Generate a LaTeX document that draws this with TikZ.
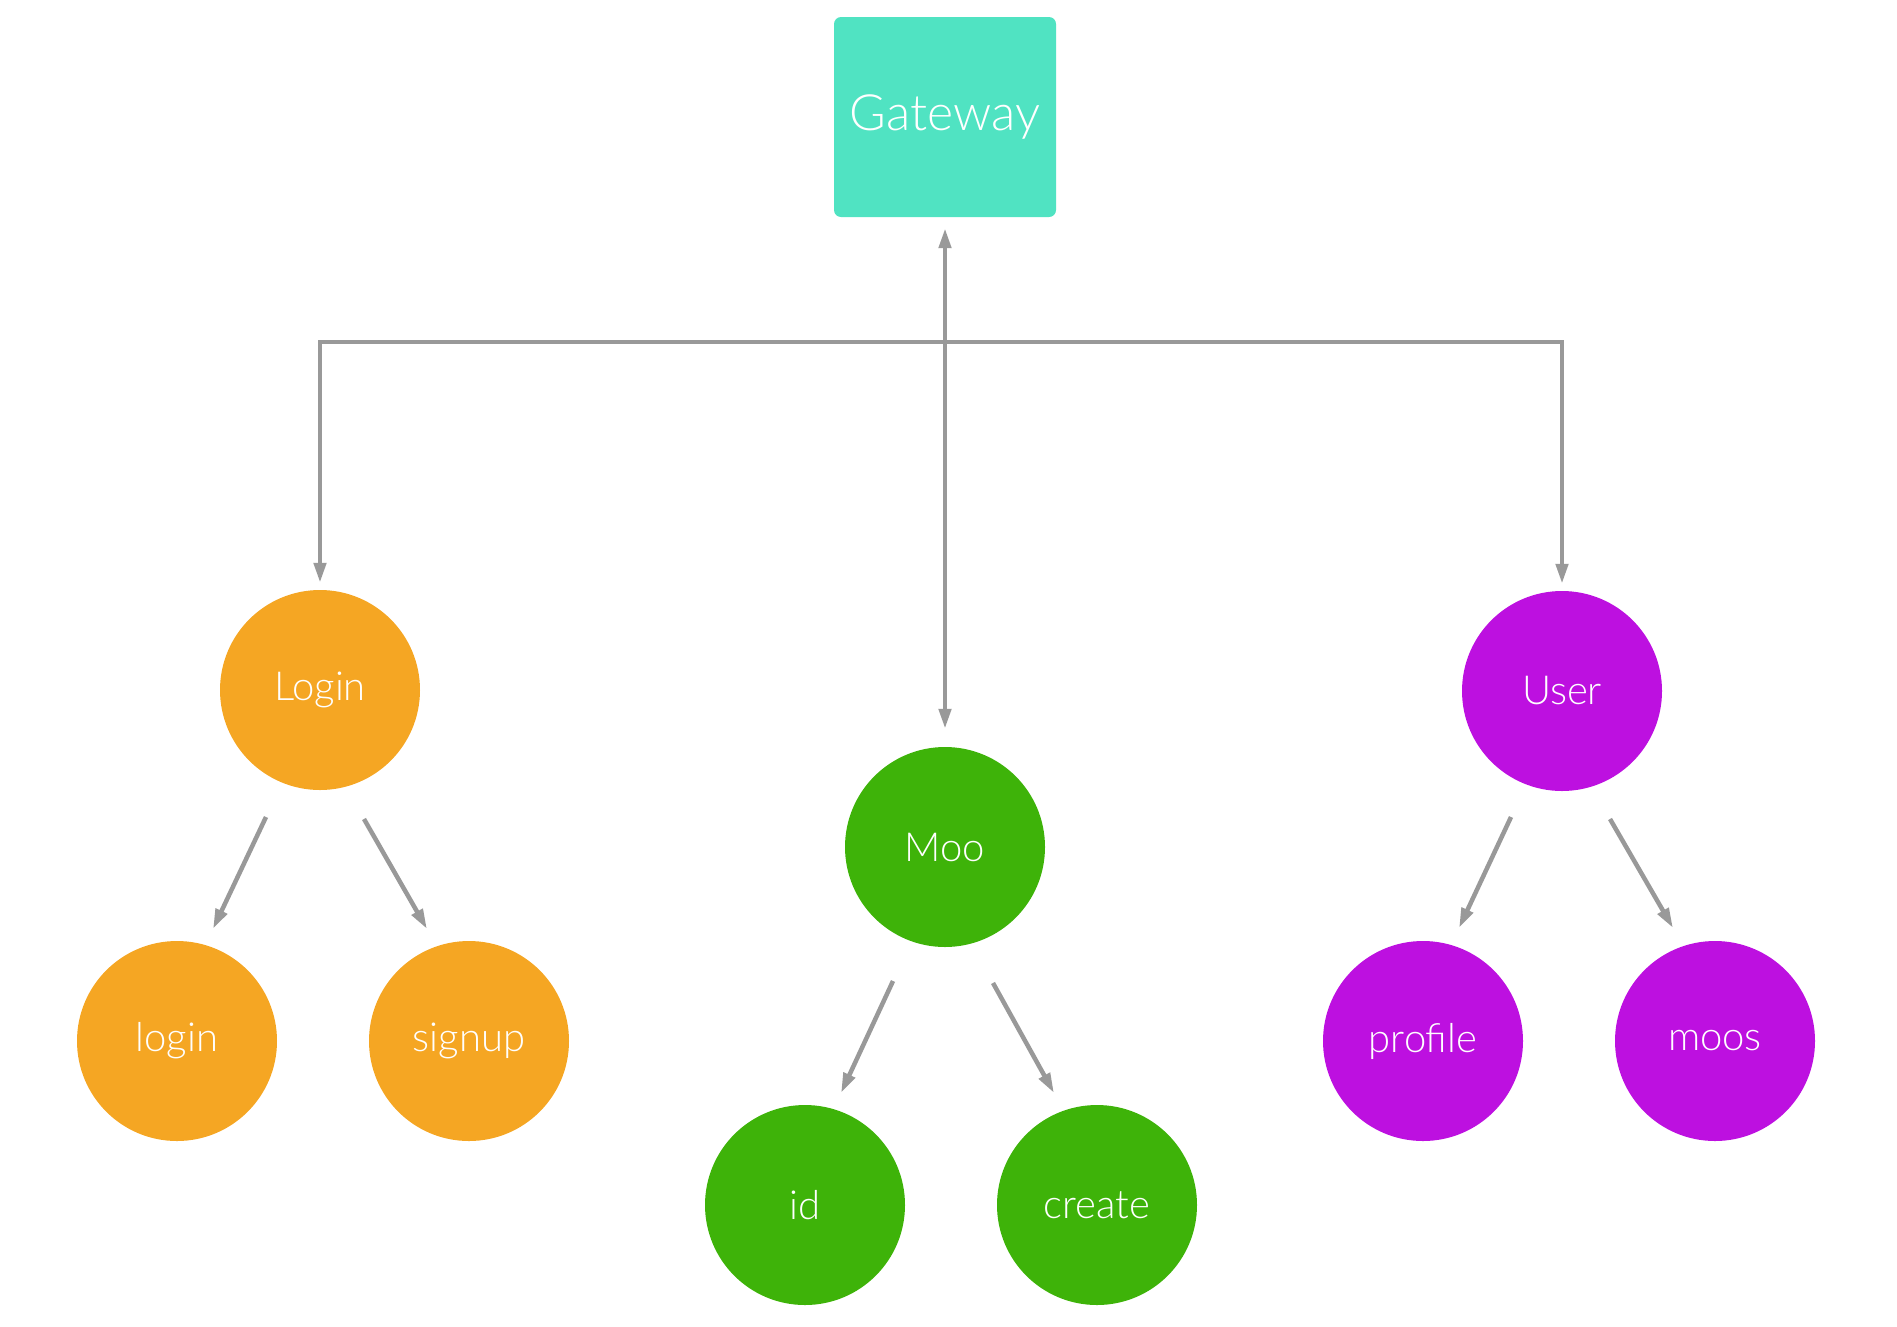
\documentclass[tikz,border=0pt]{standalone}
\usepackage{fontspec}
\setmainfont{Lato Light}
\usetikzlibrary{arrows.meta,calc}
\definecolor{gwteal}{HTML}{50E3C2}
\definecolor{svcorange}{HTML}{F5A623}
\definecolor{svcgreen}{HTML}{3EB309}
\definecolor{svcpurple}{HTML}{BD10E0}
\definecolor{conngray}{HTML}{999999}
\tikzset{
  svc/.style={circle, minimum size=200pt, inner sep=0pt, text=white, font=\fontsize{40}{48}\selectfont},
  gwbox/.style={rectangle, rounded corners=7pt, minimum width=222pt, minimum height=200pt, inner sep=0pt, fill=gwteal, text=white, font=\fontsize{50}{60}\selectfont},
  conn/.style={draw=conngray, line width=4.5pt, {Triangle[length=20pt,width=12pt]}-{Triangle[length=20pt,width=12pt]}},
  child/.style={draw=conngray, line width=4.5pt, -{Triangle[length=20pt,width=12pt]}},
}
\begin{document}
\begin{tikzpicture}[x=1pt,y=-1pt]
\useasboundingbox (0,0) rectangle (1897,1326);
\node[gwbox] (gw) at (945,117) {Gateway};
\node[svc, fill=svcorange] (loginsvc) at (320,690) {Login};
\node[svc, fill=svcgreen] (moo) at (945,847) {Moo};
\node[svc, fill=svcpurple] (user) at (1562,691) {User};
\node[svc, fill=svcorange] (login) at (177,1041) {login};
\node[svc, fill=svcorange] (signup) at (469,1041) {signup};
\node[svc, fill=svcgreen] (id) at (805,1205) {id};
\node[svc, fill=svcgreen] (create) at (1097,1205) {create};
\node[svc, fill=svcpurple] (profile) at (1423,1041) {profile};
\node[svc, fill=svcpurple] (moos) at (1715,1041) {moos};
\coordinate (bus) at (945,342);
\draw[conn, shorten <=7pt, shorten >=7pt] (loginsvc.north) |- (bus) -| (user.north);
\draw[conn, shorten <=11pt, shorten >=18pt] (gw.south) -- (moo.north);
\draw[child] ($(loginsvc)+(-54,127)$) -- ($(login)+(36,-112)$);
\draw[child] ($(loginsvc)+(44,129)$) -- ($(signup)+(-42,-112)$);
\draw[child] ($(user)+(-51,126)$) -- ($(profile)+(36,-113)$);
\draw[child] ($(user)+(48,128)$) -- ($(moos)+(-42,-113)$);
\draw[child] ($(moo)+(-52,134)$) -- ($(id)+(36,-112)$);
\draw[child] ($(moo)+(48,136)$) -- ($(create)+(-43,-112)$);
\end{tikzpicture}
\end{document}
